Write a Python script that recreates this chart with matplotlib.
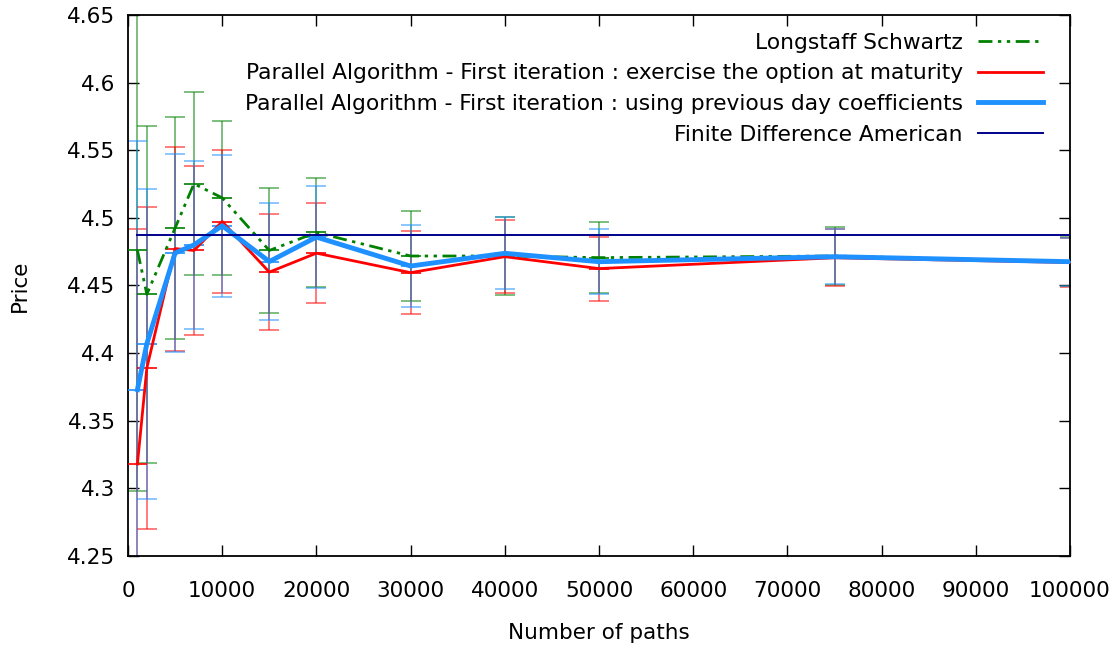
import matplotlib
matplotlib.use("Agg")
import matplotlib.pyplot as plt

# Number of Monte Carlo paths
paths = [1000, 2000, 5000, 7000, 10000, 15000, 20000, 30000, 40000, 50000, 75000, 100000]

# Longstaff Schwartz
ls_price = [4.476, 4.4435, 4.4925, 4.5252, 4.5148, 4.4759, 4.4892, 4.4718, 4.4718, 4.4706, 4.4718, 4.4675]
ls_err = [0.178, 0.1245, 0.0822, 0.0675, 0.0569, 0.046, 0.0401, 0.0332, 0.0288, 0.0263, 0.0215, 0.018]

# Parallel algorithm, first iteration: exercise at maturity
mat_price = [4.318, 4.389, 4.4773, 4.4759, 4.4973, 4.4599, 4.4739, 4.4595, 4.4713, 4.4625, 4.4705, 4.467]
mat_err = [0.174, 0.119, 0.0754, 0.0628, 0.0531, 0.043, 0.037, 0.0306, 0.027, 0.0237, 0.021, 0.018]

# Parallel algorithm, first iteration: previous day coefficients
prev_price = [4.373, 4.407, 4.474, 4.480, 4.4942, 4.4677, 4.4858, 4.4644, 4.4738, 4.4676, 4.4713, 4.4676]
prev_err = [0.1835, 0.1145, 0.073, 0.0624, 0.0524, 0.0434, 0.0376, 0.0306, 0.0265, 0.0242, 0.0203, 0.0177]

# Finite difference reference price
fd_price = [4.4876] * len(paths)

labels = [
    "Longstaff Schwartz",
    "Parallel Algorithm - First iteration : exercise the option at maturity",
    "Parallel Algorithm - First iteration : using previous day coefficients",
    "Finite Difference American",
]

plt.rcParams['font.family'] = ['DejaVu Sans']
plt.rcParams['font.size'] = 15.5

fig = plt.figure(figsize=(11.16, 6.49), dpi=100)
ax = fig.add_axes([0.1147, 0.1433, 0.8441, 0.8336])

series = [
    (ls_price, ls_err, "#008000", 2.0, (0, (5, 2, 1.2, 2, 1.2, 2))),
    (mat_price, mat_err, "#ff0000", 2.0, "-"),
    (prev_price, prev_err, "#1e90ff", 3.5, "-"),
]

handles = []
for price, err, col, lw, ls in series:
    ax.errorbar(paths, price, yerr=err, fmt="none", ecolor=col, elinewidth=1.2,
                capsize=7, capthick=1.2, alpha=0.6, zorder=2)
    ax.plot(paths, price, linestyle="none", marker="_", markersize=14,
            markeredgewidth=1.2, color=col, zorder=3)
    h, = ax.plot(paths, price, color=col, lw=lw, linestyle=ls, zorder=4)
    handles.append(h)

h, = ax.plot(paths, fd_price, color="#00008b", lw=1.4, zorder=5)
handles.append(h)

ax.set_xlim(0, 100000)
ax.set_ylim(4.25, 4.65)
ax.set_xticks(range(0, 100001, 10000))
ax.set_yticks([4.25 + 0.05 * i for i in range(9)])
ax.set_yticklabels(["%g" % round(4.25 + 0.05 * i, 2) for i in range(9)])

ax.tick_params(direction="in", length=8, width=1, top=True, right=True)
ax.tick_params(axis="x", pad=18)
ax.tick_params(axis="y", pad=9)
for s in ax.spines.values():
    s.set_linewidth(1.3)

ax.set_xlabel("Number of paths", labelpad=16)
ax.set_ylabel("Price", labelpad=27)

leg = ax.legend(handles, labels, loc="upper right", frameon=False, markerfirst=False,
                fontsize=15.65, handlelength=2.98, handletextpad=0.7, labelspacing=0.49,
                borderaxespad=0, bbox_to_anchor=(0.9805, 0.9834))

fig.savefig("out.png", dpi=100)
